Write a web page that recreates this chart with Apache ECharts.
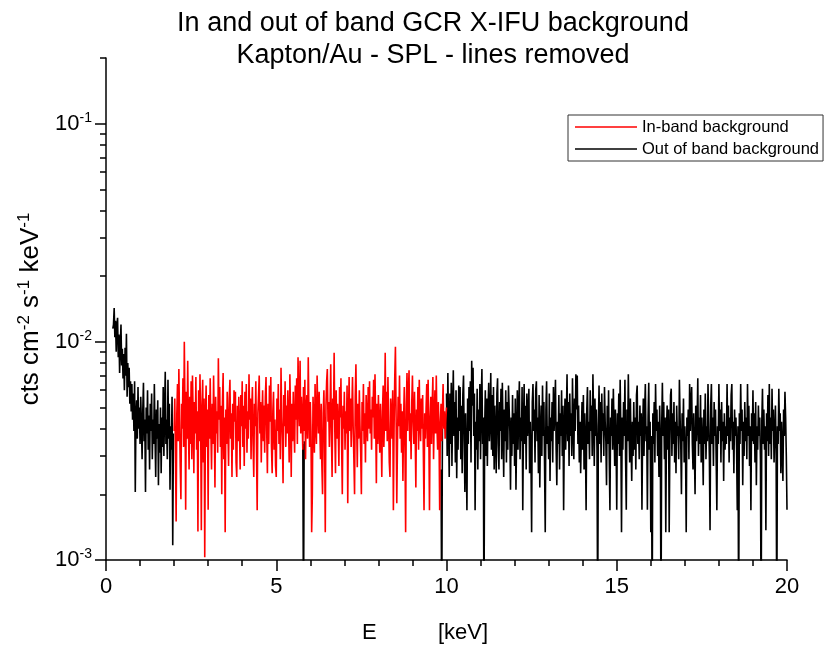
<!DOCTYPE html>
<html>
<head>
<meta charset="utf-8">
<script src="https://cdn.jsdelivr.net/npm/echarts@6/dist/echarts.min.js"></script>
<style>
  html, body { margin: 0; padding: 0; background: #fff; }
  #chart { width: 833px; height: 645px; }
</style>
</head>
<body>
<div id="chart"></div>
<script>
// Spectrum values in units of 1e-3 cts cm^-2 s^-1 keV^-1, binned at 0.02 keV.
const UNIT = 1e-3;
const BIN = 0.02;

// Out of band, low-energy part: bins from 0.20 keV
const outLowStart = 0.20;
const outLow = [
  11.5, 12.0, 14.3, 10.5, 12.5, 9.0, 11.8, 12.9, 8.5, 10.8, 7.2, 9.6, 12.0, 7.8, 9.3, 6.8, 8.8, 6.0, 9.4, 7.0, 10.9, 5.6, 8.0, 6.2, 7.6,
  5.2, 6.6, 4.8, 6.4, 4.4, 5.8, 3.9, 6.6, 2.05, 4.6, 5.4, 3.6, 6.2, 4.0, 5.0, 3.4, 5.6, 4.2, 2.9, 4.8, 6.5, 3.5, 4.4, 2.05, 5.0,
  3.8, 6.0, 3.2, 4.6, 2.6, 5.2, 3.9, 5.8, 2.9, 4.4, 3.4, 6.4, 3.7, 2.4, 4.9, 3.6, 5.4, 2.2, 4.2, 3.1, 5.0, 2.5, 4.5, 3.3, 6.2,
  3.0, 4.8, 7.3, 3.4, 4.4, 2.9, 6.7, 3.6, 5.2, 2.1, 4.1, 3.2, 5.6, 1.17, 3.8
];

// Out of band bins lying under the in-band curve (only the drop-outs show)
const outMidE = [5.78, 5.80, 5.82, 9.84, 9.86, 9.88];
const outMid  = [3.4, 0.5, 3.5, 2.6, 0.5, 4.0];

// Out of band, high-energy part: bins from 10.00 keV
const outHighStart = 10.00;
const outHigh = [
  5.8, 3.0, 7.2, 4.1, 2.4, 5.8, 3.4, 6.5, 2.7, 4.9, 7.4, 3.7, 5.3, 2.8, 6.0, 2.37, 4.5, 3.2, 6.3, 3.9, 6.2, 2.9, 5.1, 2.5, 5.7,
  7.0, 3.5, 2.05, 4.7, 3.0, 1.69, 5.5, 3.4, 6.2, 3.9, 6.6, 2.8, 8.2, 5.1, 7.6, 3.7, 5.8, 1.69, 4.3, 3.2, 6.1, 2.6, 4.9, 3.5, 6.4,
  2.9, 5.3, 7.5, 3.4, 4.5, 0.5, 3.9, 6.0, 3.0, 5.5, 2.7, 4.9, 6.5, 3.5, 4.3, 7.2, 3.2, 5.7, 3.0, 6.2, 2.6, 5.1, 3.7, 2.5, 5.8,
  6.8, 3.4, 2.6, 5.3, 3.9, 6.1, 2.9, 6.5, 4.1, 2.4, 4.9, 3.5, 6.0, 2.8, 5.3, 3.2, 6.3, 6.3, 3.9, 2.1, 4.5, 3.0, 5.7, 3.4, 4.7,
  2.7, 5.5, 2.1, 3.7, 6.0, 3.2, 4.9, 6.6, 2.9, 4.5, 3.5, 6.2, 1.69, 4.1, 6.4, 3.4, 5.1, 2.6, 5.8, 3.7, 4.7, 6.1, 2.5, 4.3, 3.0,
  1.34, 5.3, 6.4, 3.9, 4.9, 2.8, 6.0, 6.6, 3.5, 4.5, 2.5, 5.7, 2.15, 3.9, 5.1, 3.0, 6.3, 3.7, 5.3, 2.7, 1.34, 4.9, 6.6, 3.4, 4.1,
  2.9, 5.8, 2.3, 4.5, 3.5, 5.3, 2.8, 6.2, 3.9, 4.9, 6.7, 3.2, 2.2, 4.3, 3.4, 5.7, 2.6, 4.7, 3.7, 6.0, 3.0, 5.1, 1.69, 3.9, 5.5,
  3.2, 4.5, 7.1, 3.5, 5.3, 2.7, 5.8, 3.7, 4.7, 3.0, 6.8, 4.1, 2.9, 5.5, 3.9, 7.1, 4.9, 7.0, 3.4, 5.1, 2.8, 4.3, 2.5, 3.7, 5.3,
  3.2, 5.7, 2.6, 4.7, 3.5, 1.69, 4.9, 6.2, 3.4, 4.3, 2.9, 6.0, 3.9, 5.1, 3.0, 7.1, 4.5, 2.7, 5.5, 3.7, 4.9, 3.2, 0.5, 4.1, 6.3,
  3.4, 5.3, 2.8, 5.8, 3.9, 4.7, 3.0, 6.2, 4.3, 3.5, 2.2, 5.1, 3.4, 6.0, 2.9, 1.69, 4.5, 3.7, 5.5, 3.2, 6.1, 4.1, 2.7, 4.9, 3.5,
  1.7, 4.7, 3.4, 5.8, 3.0, 6.7, 3.9, 1.34, 4.5, 3.2, 5.3, 3.7, 6.7, 2.9, 1.7, 4.9, 3.5, 7.1, 4.1, 2.8, 5.5, 3.4, 2.3, 4.3, 3.0,
  5.3, 3.2, 4.5, 2.6, 5.7, 6.3, 3.4, 4.3, 2.9, 5.1, 3.7, 4.7, 1.7, 3.9, 5.5, 3.0, 4.9, 6.4, 3.5, 4.1, 1.7, 4.5, 6.5, 3.2, 4.3,
  1.34, 3.7, 0.5, 4.7, 3.4, 5.3, 2.8, 6.4, 3.9, 4.9, 3.0, 4.3, 2.4, 5.1, 3.5, 0.5, 4.1, 6.5, 3.7, 5.3, 2.9, 4.5, 1.34, 3.9, 5.1,
  3.2, 4.9, 1.34, 3.5, 5.7, 6.1, 3.0, 4.7, 3.4, 5.3, 2.8, 4.3, 2.5, 5.1, 3.7, 4.1, 2.9, 6.7, 4.5, 3.4, 2.0, 4.7, 3.5, 5.5, 2.8,
  4.1, 3.2, 1.34, 4.5, 3.7, 4.9, 2.9, 6.4, 3.9, 5.3, 6.2, 3.4, 2.6, 4.7, 3.2, 2.0, 5.1, 3.5, 4.3, 6.8, 3.0, 4.5, 3.4, 5.7, 2.8,
  4.5, 3.5, 2.2, 4.9, 3.4, 5.8, 2.9, 4.1, 3.5, 6.4, 4.3, 3.0, 1.37, 5.1, 6.4, 3.4, 4.5, 2.7, 5.3, 3.7, 4.9, 2.9, 1.69, 4.1, 3.4,
  6.4, 3.9, 4.9, 2.8, 5.3, 3.5, 4.3, 2.3, 4.7, 3.2, 4.1, 3.4, 6.4, 3.7, 5.1, 2.8, 4.5, 3.5, 5.7, 6.4, 3.2, 4.3, 2.5, 4.9, 3.7,
  4.5, 3.2, 1.69, 4.1, 0.5, 4.7, 3.4, 6.4, 3.9, 4.9, 2.2, 4.3, 3.0, 5.3, 3.5, 4.5, 2.9, 6.4, 3.7, 5.1, 2.7, 4.1, 1.69, 4.7, 3.5,
  6.0, 3.4, 4.7, 2.8, 5.3, 2.2, 4.1, 3.2, 5.1, 3.7, 4.5, 2.9, 0.5, 4.3, 6.1, 3.4, 4.9, 3.2, 4.1, 1.37, 4.7, 3.5, 5.7, 3.0, 6.4,
  3.4, 4.5, 2.9, 6.1, 3.9, 4.9, 2.8, 3.7, 5.1, 3.2, 0.5, 4.1, 3.4, 6.1, 3.9, 4.7, 2.5, 4.3, 3.2, 2.3, 4.9, 3.7, 5.9, 4.5, 3.0,
  1.7
];

// In band (2-10 keV): bins from 2.00 keV
const inStart = 2.00;
const inBand = [
  3.9, 5.5, 3.1, 1.5, 4.7, 6.4, 3.5, 7.5, 4.4, 2.7, 1.9, 5.2, 4.0, 6.8, 3.3, 10.0, 4.9, 1.7, 5.9, 3.6, 8.2, 4.1, 2.6, 5.6, 3.4,
  6.6, 2.9, 7.0, 4.5, 2.5, 5.3, 3.8, 6.9, 3.2, 4.8, 1.35, 6.0, 3.5, 7.1, 4.3, 1.37, 5.1, 6.7, 2.8, 5.5, 1.03, 4.4, 6.3, 3.3, 4.9,
  1.7, 5.7, 3.6, 6.8, 3.9, 2.6, 5.2, 3.4, 7.0, 4.1, 2.15, 5.6, 3.8, 4.8, 3.1, 8.4, 4.4, 6.2, 3.3, 5.1, 2.0, 5.3, 7.2, 2.9, 4.5,
  1.34, 4.9, 3.4, 5.9, 4.0, 2.7, 5.5, 6.7, 3.6, 4.7, 2.4, 5.2, 3.2, 6.0, 4.3, 5.9, 2.8, 2.4, 5.1, 3.5, 5.6, 3.9, 2.6, 5.7, 4.1,
  6.6, 3.3, 5.1, 2.7, 5.9, 4.0, 6.4, 3.1, 4.8, 3.6, 7.1, 4.4, 5.5, 2.9, 4.9, 6.2, 3.4, 2.4, 5.2, 4.1, 6.6, 3.2, 1.69, 4.7, 5.7,
  7.0, 3.8, 5.3, 2.8, 4.5, 6.0, 3.5, 5.1, 3.1, 5.6, 6.9, 3.9, 2.5, 5.2, 3.4, 6.3, 4.3, 6.9, 3.3, 2.5, 4.8, 5.9, 3.2, 4.4, 2.7,
  2.4, 5.5, 3.9, 6.4, 3.4, 4.9, 2.9, 7.6, 4.5, 3.6, 2.25, 5.7, 4.1, 6.6, 3.3, 5.1, 3.8, 6.0, 4.3, 2.8, 7.1, 4.7, 2.4, 5.2, 3.5,
  5.9, 4.0, 3.1, 6.3, 4.4, 6.8, 3.4, 8.5, 5.2, 4.1, 8.2, 3.8, 5.6, 4.5, 3.2, 6.2, 3.9, 6.7, 2.9, 4.9, 5.7, 3.6, 8.5, 4.7, 3.3,
  5.3, 3.9, 1.34, 2.0, 5.6, 4.4, 3.1, 6.4, 4.1, 3.4, 7.0, 4.8, 3.8, 5.9, 4.0, 2.9, 5.2, 2.7, 2.0, 4.7, 6.0, 3.5, 1.34, 5.1, 6.6,
  7.5, 4.3, 5.3, 3.3, 4.9, 7.9, 3.8, 2.4, 5.5, 4.4, 8.9, 3.9, 2.5, 6.0, 3.6, 5.2, 4.1, 2.7, 6.2, 4.5, 6.8, 3.4, 2.0, 5.1, 4.0,
  5.9, 3.2, 4.8, 3.8, 6.3, 1.82, 4.5, 6.9, 3.9, 5.5, 3.3, 4.9, 6.9, 4.0, 2.9, 2.0, 5.6, 7.9, 4.3, 2.66, 5.2, 3.6, 6.0, 4.1, 3.1,
  2.0, 5.3, 3.9, 6.4, 3.4, 4.7, 2.8, 5.7, 4.3, 3.5, 6.2, 4.0, 6.6, 3.8, 4.9, 3.2, 5.6, 4.5, 6.7, 3.6, 7.1, 4.4, 2.25, 5.2, 3.4,
  5.7, 4.1, 3.1, 5.2, 3.8, 2.4, 4.8, 6.3, 3.3, 4.4, 8.9, 3.9, 5.9, 3.5, 6.9, 4.3, 2.8, 2.4, 5.5, 4.7, 3.6, 6.0, 1.69, 4.0, 6.8,
  9.5, 4.5, 1.82, 3.4, 5.6, 4.1, 7.0, 3.6, 5.2, 3.1, 4.8, 2.3, 4.4, 6.2, 3.3, 1.34, 5.1, 7.2, 3.9, 5.7, 7.4, 3.5, 4.7, 2.9, 5.3,
  7.0, 4.3, 3.4, 5.9, 3.8, 2.15, 4.9, 3.9, 6.2, 3.2, 6.7, 4.4, 3.5, 5.5, 4.0, 5.7, 3.1, 1.69, 4.7, 3.6, 4.9, 6.4, 3.3, 6.7, 4.1,
  1.69, 4.4, 5.6, 3.4, 5.1, 6.9, 2.9, 4.5, 6.0, 3.8, 7.0, 4.1, 3.2, 5.3, 3.8, 1.69, 4.3, 5.2, 3.5, 4.7, 6.4, 4.0, 4.8, 3.6, 4.4,
  5.0
];

// Axis tick values
const yLabelValues = [0.001, 0.01, 0.1];
const yMinorValues = [
  0.002, 0.003, 0.004, 0.005, 0.006, 0.007, 0.008, 0.009,
  0.02, 0.03, 0.04, 0.05, 0.06, 0.07, 0.08, 0.09, 0.2
];

function binned(start, values) {
  return values.map((v, i) => [+(start + i * BIN).toFixed(2), v * UNIT]);
}

const GAP = '-';
const outData = []
  .concat(binned(outLowStart, outLow))
  .concat([[2.0, GAP]])
  .concat(outMidE.slice(0, 3).map((e, i) => [e, outMid[i] * UNIT]))
  .concat([[6.0, GAP]])
  .concat(outMidE.slice(3).map((e, i) => [e, outMid[i + 3] * UNIT]))
  .concat([[9.95, GAP]])
  .concat(binned(outHighStart, outHigh));

const inData = binned(inStart, inBand);

const FONT = "'Liberation Sans', Arial, sans-serif";

const chart = echarts.init(document.getElementById('chart'), null, { renderer: 'canvas' });

chart.setOption({
  animation: false,
  backgroundColor: '#fff',
  title: {
    text: 'In and out of band GCR X-IFU background\nKapton/Au - SPL - lines removed',
    left: 428,
    top: 3,
    textAlign: 'center',
    textStyle: { fontFamily: FONT, fontSize: 27, fontWeight: 'normal', color: '#000', lineHeight: 32 }
  },
  legend: {
    data: ['In-band background', 'Out of band background'],
    orient: 'vertical',
    left: 568,
    top: 115,
    padding: [3, 4, 3, 7],
    itemGap: 4,
    itemWidth: 62,
    itemHeight: 1.5,
    itemTextGap: 4,
    icon: 'rect',
    borderColor: '#333',
    borderWidth: 1,
    backgroundColor: '#fff',
    textStyle: { fontFamily: FONT, fontSize: 16.5, color: '#000', lineHeight: 18 }
  },
  grid: { left: 106, right: 46, top: 58, bottom: 85, containLabel: false },
  xAxis: {
    type: 'value',
    min: 0,
    max: 20,
    interval: 5,
    axisLine: { show: true, onZero: false, lineStyle: { color: '#000', width: 1.5 } },
    axisTick: { show: true, inside: false, length: 11, lineStyle: { color: '#000', width: 1.5 } },
    minorTick: { show: true, splitNumber: 5, length: 6, lineStyle: { color: '#000', width: 1.5 } },
    axisLabel: { fontFamily: FONT, fontSize: 22, color: '#000', margin: 16 },
    splitLine: { show: false },
    minorSplitLine: { show: false }
  },
  yAxis: [
    {
      type: 'log',
      logBase: 10,
      min: 0.001,
      max: 0.2,
      position: 'left',
      axisLine: { show: true, onZero: false, lineStyle: { color: '#000', width: 1.5 } },
      axisTick: { show: true, inside: false, length: 11, customValues: yLabelValues, lineStyle: { color: '#000', width: 1.5 } },
      axisLabel: {
        customValues: yLabelValues,
        margin: 14,
        formatter: v => '{b|10}{s|' + Math.round(Math.log10(v)) + '}',
        rich: {
          b: { fontFamily: FONT, fontSize: 22, color: '#000' },
          s: { fontFamily: FONT, fontSize: 14, color: '#000', padding: [0, 0, 12, 0] }
        }
      },
      splitLine: { show: false },
      name: '{t|cts cm}{s|-2}{t| s}{s|-1}{t| keV}{s|-1}',
      nameLocation: 'middle',
      nameRotate: 90,
      nameGap: 45,
      nameTextStyle: {
        rich: {
          t: { fontFamily: FONT, fontSize: 26, color: '#000' },
          s: { fontFamily: FONT, fontSize: 17, color: '#000', padding: [0, 0, 13, 0] }
        }
      }
    },
    {
      type: 'log',
      logBase: 10,
      min: 0.001,
      max: 0.2,
      position: 'left',
      axisLine: { show: false },
      axisTick: { show: true, inside: false, length: 6, customValues: yMinorValues, lineStyle: { color: '#000', width: 1.5 } },
      axisLabel: { show: false },
      splitLine: { show: false }
    }
  ],
  graphic: [
    { type: 'text', left: 362, top: 622, style: { text: 'E', font: '22px ' + FONT, fill: '#000' } },
    { type: 'text', left: 438, top: 622, style: { text: '[keV]', font: '22px ' + FONT, fill: '#000' } }
  ],
  series: [
    {
      name: 'Out of band background',
      type: 'line',
      data: outData,
      showSymbol: false,
      symbol: 'none',
      connectNulls: false,
      clip: true,
      lineStyle: { color: '#000', width: 1.6 },
      itemStyle: { color: '#000' }
    },
    {
      name: 'In-band background',
      type: 'line',
      data: inData,
      showSymbol: false,
      symbol: 'none',
      clip: true,
      lineStyle: { color: '#ff0000', width: 1.6 },
      itemStyle: { color: '#ff0000' }
    }
  ]
});
</script>
</body>
</html>
